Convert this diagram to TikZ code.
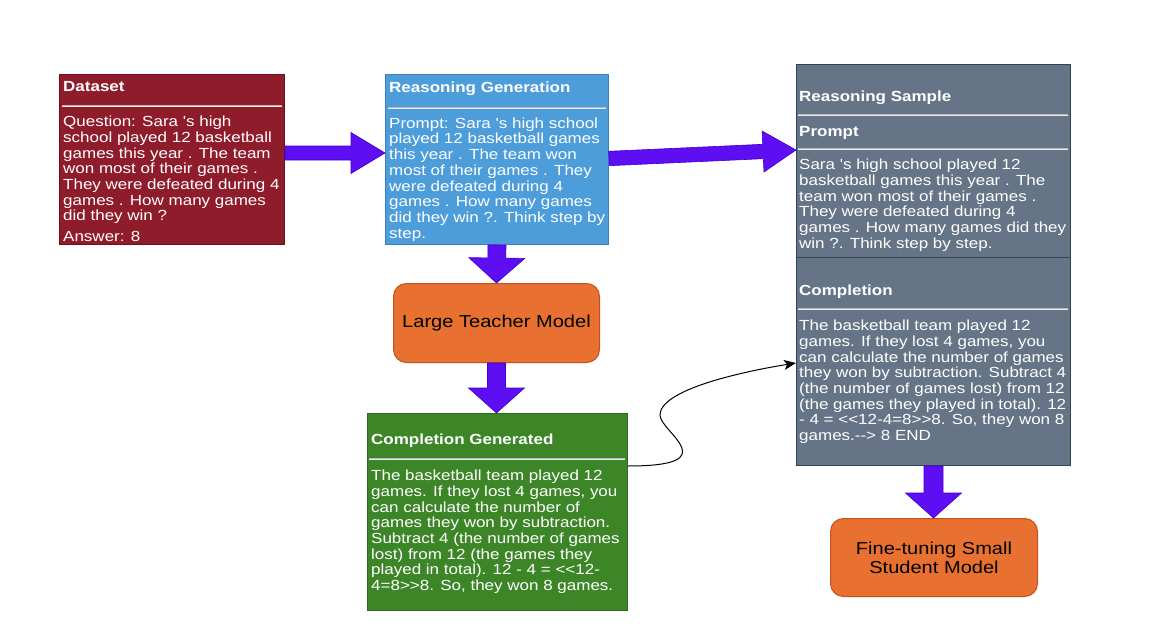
\documentclass[tikz,border=0pt]{standalone}
\usepackage{fontspec}
\setmainfont[FakeStretch=1.16,Ligatures=TeXOff]{Liberation Sans}
\usetikzlibrary{calc,arrows.meta}
\definecolor{dsred}{HTML}{8F1C2B}
\definecolor{dsredB}{HTML}{6F0F1C}
\definecolor{rgblue}{HTML}{4D9DDB}
\definecolor{rgblueB}{HTML}{3B7FC0}
\definecolor{rsgrey}{HTML}{667487}
\definecolor{rsgreyB}{HTML}{314354}
\definecolor{cggreen}{HTML}{3D8628}
\definecolor{cggreenB}{HTML}{2D6A1C}
\definecolor{tmorange}{HTML}{E87131}
\definecolor{tmorangeB}{HTML}{C4501A}
\definecolor{arrfill}{HTML}{5E0EF2}
\definecolor{arrdraw}{HTML}{4300C8}
% block arrow: start, end, half shaft width, half head width, head length
\newcommand\blockarrow[5]{%
  \coordinate (bahead) at ($(#2)!#5!(#1)$);
  \filldraw[blockarrowstyle]
    ($(#1)!#3!90:(#2)$) -- ($(bahead)!#3!90:(#2)$) -- ($(bahead)!#4!90:(#2)$)
    -- (#2) -- ($(bahead)!#4!-90:(#2)$) -- ($(bahead)!#3!-90:(#2)$)
    -- ($(#1)!#3!-90:(#2)$) -- cycle;}
\begin{document}
\begin{tikzpicture}[x=1pt,y=-1pt,
  boxbase/.style={rectangle, inner sep=0pt, line width=1pt, anchor=north west},
  dsbox/.style={boxbase, fill=dsred, draw=dsredB},
  rgbox/.style={boxbase, fill=rgblue, draw=rgblueB},
  rsbox/.style={boxbase, fill=rsgrey, draw=rsgreyB},
  cgbox/.style={boxbase, fill=cggreen, draw=cggreenB},
  tmbox/.style={boxbase, fill=tmorange, draw=tmorangeB, rounded corners=13pt,
     text=black, align=center, font=\fontsize{17.3}{19}\selectfont},
  bodytxt/.style={text=white, align=left, anchor=north west, inner sep=0pt,
     font=\fontsize{14.65}{15.7}\selectfont},
  titletxt/.style={text=white, anchor=base west, inner sep=0pt,
     font=\bfseries\fontsize{14.65}{15.7}\selectfont},
  sepline/.style={draw=black!28, double=white!92!black, double distance=0.9pt, line width=0.6pt},
  blockarrowstyle/.style={fill=arrfill, draw=arrdraw, line width=0.6pt, line join=miter},
  curvearrow/.style={draw=black, line width=1pt, -{Stealth[length=12pt,width=10pt,inset=3pt]}},
]
\useasboundingbox (0,0) rectangle (1152,642);

% ---- boxes
\node[dsbox, minimum width=225pt, minimum height=170pt] (ds) at (59,74) {};
\node[rgbox, minimum width=223pt, minimum height=170pt] (rg) at (385,74) {};
\node[rsbox, minimum width=274pt, minimum height=193pt] (rst) at (796,64) {};
\node[rsbox, minimum width=274pt, minimum height=208pt] (rsb) at (796,257) {};
\node[cgbox, minimum width=260pt, minimum height=197pt] (cg) at (367,413) {};
\node[tmbox, minimum width=206pt, minimum height=79pt] (ltm) at (393,283) {Large Teacher Model};
\node[tmbox, minimum width=207pt, minimum height=78pt] (ft) at (830,518) {Fine-tuning Small\\Student Model};

% ---- Dataset
\node[titletxt] (dst) at (63,91.5) {Dataset};
\draw[sepline] (62,106) -- (282,106);
\node[bodytxt] (dsx) at (63,114.5) {\rule{0pt}{12pt}Question: Sara 's high\\
school played 12 basketball\\
games this year . The team\\
won most of their games .\\
They were defeated during 4\\
games . How many games\\
did they win ?\\[5.1pt]
Answer: 8};

% ---- Reasoning Generation
\node[titletxt] (rgt) at (389,92.5) {Reasoning Generation};
\draw[sepline] (388,108) -- (606,108);
\node[bodytxt] (rgx) at (389,116) {\rule{0pt}{12pt}Prompt: Sara 's high school\\
played 12 basketball games\\
this year . The team won\\
most of their games . They\\
were defeated during 4\\
games . How many games\\
did they win ?. Think step by\\
step.};

% ---- Reasoning Sample
\node[titletxt] (rst1) at (799,101.5) {Reasoning Sample};
\draw[sepline] (798,115) -- (1068,115);
\node[titletxt] (rst2) at (799,136.5) {Prompt};
\draw[sepline] (798,149) -- (1068,149);
\node[bodytxt] (rsx) at (799,157.5) {\rule{0pt}{12pt}Sara 's high school played 12\\
basketball games this year . The\\
team won most of their games .\\
They were defeated during 4\\
games . How many games did they\\
win ?. Think step by step.};

\node[titletxt] (rsb1) at (799,295.5) {Completion};
\draw[sepline] (798,309) -- (1068,309);
\node[bodytxt] (rsbx) at (799,318.5) {\rule{0pt}{12pt}The basketball team played 12\\
games. If they lost 4 games, you\\
can calculate the number of games\\
they won by subtraction. Subtract 4\\
(the number of games lost) from 12\\
(the games they played in total). 12\\
- 4 = <<12-4=8>>8. So, they won 8\\
games.--> 8 END};

% ---- Completion Generated
\node[titletxt] (cgt) at (371,444.5) {Completion Generated};
\draw[sepline] (369,459) -- (625,459);
\node[bodytxt] (cgx) at (371,468.5) {\rule{0pt}{12pt}The basketball team played 12\\
games. If they lost 4 games, you\\
can calculate the number of\\
games they won by subtraction.\\
Subtract 4 (the number of games\\
lost) from 12 (the games they\\
played in total). 12 - 4 = <<12-\\
4=8>>8. So, they won 8 games.};

% ---- block arrows
\coordinate (a1s) at ($(ds.north east)+(0,79)$);
\coordinate (a1e) at ($(rg.north west)+(0,79)$);
\blockarrow{a1s}{a1e}{7pt}{20.5pt}{34pt}
\coordinate (a2s) at ($(rg.north east)+(0,84.5)$);
\coordinate (a2e) at ($(rst.north west)+(0,86)$);
\blockarrow{a2s}{a2e}{7.2pt}{20.5pt}{33pt}
\blockarrow{rg.south}{ltm.north}{9pt}{28pt}{25pt}
\coordinate (a4e) at (ltm.south |- cg.north);
\blockarrow{ltm.south}{a4e}{9pt}{28pt}{25pt}
\coordinate (a5e) at (rsb.south |- ft.north);
\blockarrow{rsb.south}{a5e}{9.5pt}{28pt}{25pt}

% ---- curved connector
\coordinate (cgout) at ($(cg.north east)+(0,53)$);
\coordinate (rsin) at ($(rsb.north west)+(0,106)$);
\draw[curvearrow] (cgout) .. controls (728,466) and (660,432) .. (660,415)
   .. controls (660,390) and (740,372) .. (rsin);
\end{tikzpicture}
\end{document}
